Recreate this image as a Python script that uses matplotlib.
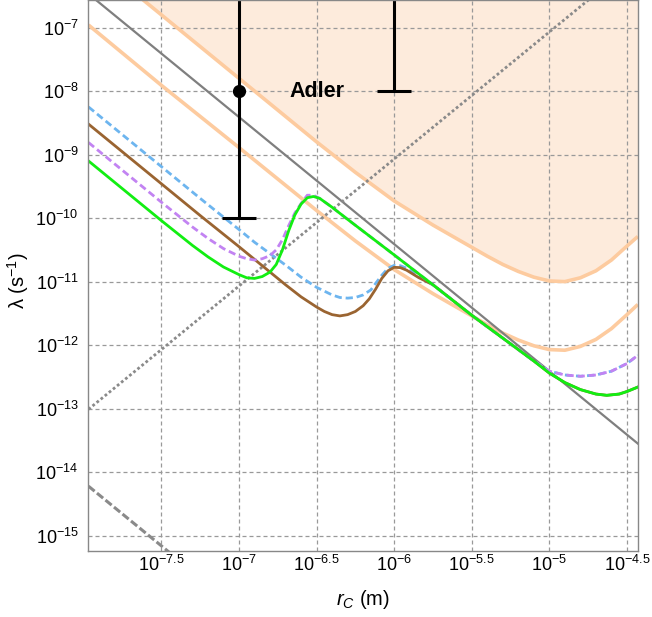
import numpy as np
import matplotlib
matplotlib.use("Agg")
import matplotlib.pyplot as plt

plt.rcParams['font.family'] = ['Liberation Sans', 'DejaVu Sans']
plt.rcParams['mathtext.fontset'] = 'custom'
plt.rcParams['mathtext.rm'] = 'Liberation Sans'
plt.rcParams['mathtext.it'] = 'Liberation Sans:italic'
plt.rcParams['mathtext.bf'] = 'Liberation Sans:bold'

# ---- data: log10(r_C / m) and log10(lambda / s^-1) ----
excl_logr = [-7.97, -7.617, -7.0, -6.5, -6.25, -6.0, -5.75, -5.5, -5.4, -5.3, -5.2,
             -5.1, -5.0, -4.9, -4.8, -4.7, -4.6, -4.5, -4.43]
excl_loglam = [-5.86, -6.567, -7.80, -8.80, -9.28, -9.73, -10.11, -10.46, -10.60, -10.73, -10.84,
               -10.93, -10.99, -11.00, -10.94, -10.83, -10.66, -10.44, -10.29]

bound2_logr = [-7.97, -7.5, -7.0, -6.5, -6.25, -6.0, -5.75, -5.5, -5.4, -5.3, -5.2,
               -5.1, -5.0, -4.9, -4.8, -4.7, -4.6, -4.5, -4.43]
bound2_loglam = [-6.96, -7.91, -8.89, -9.88, -10.36, -10.81, -11.19, -11.54, -11.68, -11.81, -11.92,
                 -12.01, -12.07, -12.08, -12.02, -11.91, -11.74, -11.52, -11.36]

gray_solid_logr = [-7.97, -4.43]
gray_solid_loglam = [-6.47, -13.55]
gray_dotted_logr = [-7.97, -4.43]
gray_dotted_loglam = [-13.01, -5.93]
gray_dashed_logr = [-7.97, -7.30]
gray_dashed_loglam = [-14.22, -15.56]

# shared tail of the merged curves
tail_logr = [-5.75, -5.5, -5.25, -5.1]
tail_loglam = [-11.05, -11.53, -11.98, -12.25]
green_end_logr = [-5.0, -4.9, -4.8, -4.7, -4.63, -4.55, -4.5, -4.43]
green_end_loglam = [-12.44, -12.59, -12.70, -12.77, -12.79, -12.77, -12.73, -12.66]
purple_end_logr = [-5.0, -4.9, -4.8, -4.7, -4.6, -4.5, -4.43]
purple_end_loglam = [-12.41, -12.47, -12.49, -12.47, -12.41, -12.29, -12.16]

green_logr = [-7.97, -7.75, -7.5, -7.3, -7.2, -7.1, -7.0, -6.95, -6.9, -6.85, -6.8, -6.76,
              -6.72, -6.68, -6.64, -6.6, -6.56, -6.52, -6.48, -6.4, -6.3, -6.0] \
    + tail_logr + green_end_logr
green_loglam = [-9.10, -9.54, -10.04, -10.43, -10.61, -10.77, -10.89, -10.94, -10.95, -10.92, -10.85, -10.73,
                -10.50, -10.20, -9.95, -9.78, -9.68, -9.66, -9.69, -9.83, -10.02, -10.58] \
    + tail_loglam + green_end_loglam

purple_logr = [-7.97, -7.75, -7.5, -7.3, -7.2, -7.1, -7.0, -6.95, -6.9, -6.85, -6.8, -6.76,
               -6.72, -6.68, -6.64, -6.6, -6.56, -6.52, -6.48, -6.4, -6.3, -6.0] \
    + tail_logr + purple_end_logr
purple_loglam = [-8.81, -9.25, -9.75, -10.14, -10.32, -10.48, -10.60, -10.64, -10.66, -10.64, -10.59, -10.50,
                 -10.34, -10.12, -9.92, -9.77, -9.64, -9.64, -9.69, -9.83, -10.02, -10.58] \
    + tail_loglam + purple_end_loglam

blue_logr = [-7.97, -7.75, -7.5, -7.25, -7.0, -6.9, -6.8, -6.7, -6.6, -6.5, -6.4, -6.35, -6.3,
             -6.25, -6.2, -6.15, -6.12, -6.08, -6.04, -6.0, -5.96, -5.92, -5.88, -5.84] \
    + tail_logr + purple_end_logr
blue_loglam = [-8.25, -8.69, -9.19, -9.69, -10.18, -10.38, -10.56, -10.74, -10.93, -11.09, -11.21, -11.25, -11.26,
               -11.25, -11.21, -11.13, -11.03, -10.90, -10.79, -10.745, -10.75, -10.79, -10.85, -10.92] \
    + tail_loglam + purple_end_loglam

brown_logr = [-7.97, -7.75, -7.5, -7.25, -7.0, -6.9, -6.8, -6.7, -6.6, -6.5, -6.45, -6.4, -6.35, -6.3,
              -6.25, -6.2, -6.16, -6.12, -6.08, -6.04, -6.0, -5.96, -5.92, -5.88, -5.84] \
    + tail_logr + green_end_logr
brown_loglam = [-8.52, -8.96, -9.46, -9.96, -10.45, -10.65, -10.85, -11.05, -11.24, -11.40, -11.47, -11.52, -11.54, -11.52,
                -11.47, -11.38, -11.27, -11.12, -10.95, -10.83, -10.775, -10.78, -10.82, -10.88, -10.94] \
    + tail_loglam + green_end_loglam

adler_r = [1e-7, 1e-6]
adler_loglam = [-8, -6]
adler_err_dex = 2

xtick_logs = [-7.5, -7, -6.5, -6, -5.5, -5, -4.5]
xtick_labels = ['$10^{-7.5}$', '$10^{-7}$', '$10^{-6.5}$', '$10^{-6}$', '$10^{-5.5}$', '$10^{-5}$', '$10^{-4.5}$']
ytick_logs = [-15, -14, -13, -12, -11, -10, -9, -8, -7]
ytick_labels = ['$10^{-15}$', '$10^{-14}$', '$10^{-13}$', '$10^{-12}$', '$10^{-11}$', '$10^{-10}$',
                '$10^{-9}$', '$10^{-8}$', '$10^{-7}$']


def p(a):
    return 10.0 ** np.asarray(a, dtype=float)


fig = plt.figure(figsize=(6.52, 6.17), dpi=100)
ax = fig.add_axes([88.3 / 652, 1 - 550.7 / 617, 550.0 / 652, 550.7 / 617])
ax.set_xscale('log')
ax.set_yscale('log')
ax.set_xlim(10 ** -7.971, 10 ** -4.427)
ax.set_ylim(10 ** -15.236, 10 ** -6.567)

orange = '#FDCB9F'
ax.fill_between(p(excl_logr), p(excl_loglam), 1e-3, color='#FDEBDC', lw=0, zorder=0.5)
ax.plot(p(excl_logr), p(excl_loglam), color=orange, lw=2.6, zorder=1, solid_capstyle='butt')
ax.plot(p(bound2_logr), p(bound2_loglam), color=orange, lw=2.6, zorder=1, solid_capstyle='butt')

ax.plot(p(gray_solid_logr), p(gray_solid_loglam), color='#7f7f7f', lw=1.6, zorder=2)
ax.plot(p(gray_dotted_logr), p(gray_dotted_loglam), color='#8a8a8a', lw=2.0,
        ls=(0, (1.0, 0.9)), dash_capstyle='butt', zorder=2)
ax.plot(p(gray_dashed_logr), p(gray_dashed_loglam), color='#8a8a8a', lw=2.2,
        ls=(0, (2.6, 1.0)), dash_capstyle='butt', zorder=2)

ax.plot(p(blue_logr), p(blue_loglam), color='#6DB5EF', lw=2.0, ls=(0, (2.6, 1.4)), zorder=3)
ax.plot(p(brown_logr), p(brown_loglam), color='#9A6431', lw=2.0, zorder=4)
ax.plot(p(purple_logr), p(purple_loglam), color='#C283F2', lw=2.0, ls=(0, (2.6, 1.4)), zorder=5)
ax.plot(p(green_logr), p(green_loglam), color='#12EE12', lw=2.0, zorder=6)

for r, ll in zip(adler_r, adler_loglam):
    ax.errorbar([r], [10.0 ** ll],
                yerr=[[10.0 ** ll - 10.0 ** (ll - adler_err_dex)], [10.0 ** (ll + adler_err_dex) - 10.0 ** ll]],
                fmt='o', color='black', ms=8.5, elinewidth=2.2, capsize=12.5, capthick=2.2, zorder=7)
ax.text(10 ** -6.5, 1e-8, 'Adler', fontsize=15.5, fontweight='bold', ha='center', va='center', zorder=8)

ax.set_xticks(p(xtick_logs))
ax.set_xticklabels(xtick_labels)
ax.set_yticks(p(ytick_logs))
ax.set_yticklabels(ytick_labels)
ax.minorticks_off()
ax.tick_params(axis='both', length=0, labelsize=13, colors='black')
ax.tick_params(axis='x', pad=3)
ax.tick_params(axis='y', pad=7)
ax.grid(True, which='major', color='#999999', lw=0.9, ls=(0, (3.2, 2.4)))
ax.set_axisbelow(True)
for s in ax.spines.values():
    s.set_color('#888888')
    s.set_linewidth(1.0)
    s.set_zorder(9)

ax.set_xlabel('$r_C$ (m)', fontsize=14.5)
ax.set_ylabel('λ (s$^{-1}$)', fontsize=14.5)
ax.xaxis.set_label_coords(0.5, -0.068)
ax.yaxis.set_label_coords(-0.104, 0.49)

fig.savefig('out.png', dpi=100)
